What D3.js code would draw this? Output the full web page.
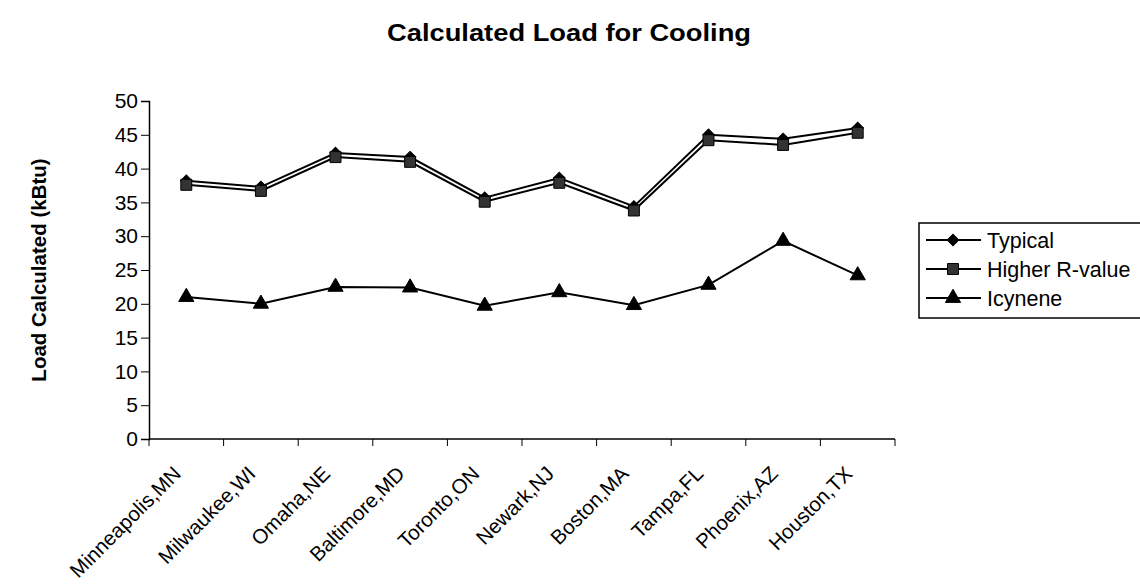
<!DOCTYPE html>
<html>
<head>
<meta charset="utf-8">
<script src="https://cdn.jsdelivr.net/npm/d3@7"></script>
<style>
  body { margin: 0; background: #fff; }
  text { font-family: "Liberation Sans", Arial, sans-serif; fill: #000; }
</style>
</head>
<body>
<svg id="chart" width="1140" height="588"></svg>
<script>
// values
const cities = ["Minneapolis,MN", "Milwaukee,WI", "Omaha,NE", "Baltimore,MD", "Toronto,ON",
    "Newark,NJ", "Boston,MA", "Tampa,FL", "Phoenix,AZ", "Houston,TX"];
const typical = [38.2, 37.3, 42.3, 41.7, 35.7, 38.6, 34.4, 45.0, 44.4, 46.0];
const higherR = [37.6, 36.7, 41.7, 41.0, 35.1, 37.9, 33.8, 44.2, 43.5, 45.3];
const icynene = [21.0, 20.0, 22.5, 22.4, 19.7, 21.7, 19.8, 22.8, 29.3, 24.2];
const yTicks = [0, 5, 10, 15, 20, 25, 30, 35, 40, 45, 50];
const seriesNames = ["Typical", "Higher R-value", "Icynene"];

const series = [
    { name: seriesNames[0], values: typical, shape: "diamond" },
    { name: seriesNames[1], values: higherR, shape: "square" },
    { name: seriesNames[2], values: icynene, shape: "triangle" }
];

const svg = d3.select("#chart");
const plotL = 149, plotR = 895, plotT = 101, plotB = 439;

const x = d3.scaleBand().domain(cities).range([plotL, plotR]);
const y = d3.scaleLinear().domain([0, 50]).range([plotB, plotT]);

// title
svg.append("text")
    .attr("x", 569).attr("y", 41)
    .attr("text-anchor", "middle")
    .attr("font-size", "24px")
    .attr("font-weight", "bold")
    .attr("textLength", 364)
    .attr("lengthAdjust", "spacingAndGlyphs")
    .text("Calculated Load for Cooling");

// y axis
const yAxis = svg.append("g")
    .attr("transform", `translate(${plotL},0)`)
    .call(d3.axisLeft(y).tickValues(yTicks).tickSize(8).tickPadding(3));
yAxis.select(".domain").attr("stroke", "#000").attr("stroke-width", 1.5);
yAxis.selectAll(".tick line").attr("stroke", "#000");
yAxis.selectAll("text")
    .attr("font-size", "21px")
    .attr("font-family", "Liberation Sans, Arial, sans-serif")
    .attr("fill", "#000");

svg.append("text")
    .attr("transform", `translate(46,${(plotT + plotB) / 2}) rotate(-90)`)
    .attr("text-anchor", "middle")
    .attr("font-size", "20.5px")
    .attr("font-weight", "bold")
    .text("Load Calculated (kBtu)");

// x axis, ticks between categories
const xAxisG = svg.append("g").attr("transform", `translate(0,${plotB})`);
xAxisG.append("line")
    .attr("x1", plotL).attr("x2", plotR)
    .attr("stroke", "#000").attr("stroke-width", 1.5);
const edges = cities.map(c => x(c)).concat([plotR]);
xAxisG.selectAll("line.tk")
    .data(edges)
    .enter()
    .append("line")
    .attr("class", "tk")
    .attr("x1", d => d).attr("x2", d => d)
    .attr("y1", 0).attr("y2", 7)
    .attr("stroke", "#000");
xAxisG.selectAll("text")
    .data(cities)
    .enter()
    .append("text")
    .attr("transform", d => `translate(${x(d) + x.bandwidth() / 2 - 4},36) rotate(-45)`)
    .attr("text-anchor", "end")
    .attr("font-size", "20.5px")
    .text(d => d);

// lines and markers
const cx = (d, i) => x(cities[i]) + x.bandwidth() / 2;
const line = d3.line().x(cx).y(d => y(d));

const symbols = {
    diamond: d3.symbol().type(d3.symbolSquare).size(66),
    square: d3.symbol().type(d3.symbolSquare).size(120),
    triangle: d3.symbol().type(d3.symbolTriangle).size(100)
};
const rot = { diamond: 45, square: 0, triangle: 0 };
const fills = { diamond: "#000", square: "#333", triangle: "#000" };

series.forEach(s => {
    svg.append("path")
        .datum(s.values)
        .attr("d", line)
        .attr("fill", "none")
        .attr("stroke", "#000")
        .attr("stroke-width", 2);
    svg.append("g")
        .selectAll("path")
        .data(s.values)
        .enter()
        .append("path")
        .attr("transform", (d, i) => `translate(${cx(d, i)},${y(d)}) rotate(${rot[s.shape]})`)
        .attr("d", symbols[s.shape])
        .attr("fill", fills[s.shape])
        .attr("stroke", "#000")
        .attr("stroke-width", 1);
});

// legend
const lg = svg.append("g").attr("transform", "translate(919,223)");
lg.append("rect")
    .attr("width", 240).attr("height", 95)
    .attr("fill", "#fff").attr("stroke", "#000").attr("stroke-width", 1.5);
const rows = lg.selectAll("g.row")
    .data(series)
    .enter()
    .append("g")
    .attr("class", "row")
    .attr("transform", (d, i) => `translate(0,${17 + i * 29})`);
rows.append("line")
    .attr("x1", 7).attr("x2", 62)
    .attr("stroke", "#000").attr("stroke-width", 2);
rows.append("path")
    .attr("transform", d => `translate(34,0) rotate(${rot[d.shape]})`)
    .attr("d", d => symbols[d.shape]())
    .attr("fill", d => fills[d.shape])
    .attr("stroke", "#000");
rows.append("text")
    .attr("x", 68).attr("dy", "0.35em")
    .attr("font-size", "21.5px")
    .text(d => d.name);
</script>
</body>
</html>
